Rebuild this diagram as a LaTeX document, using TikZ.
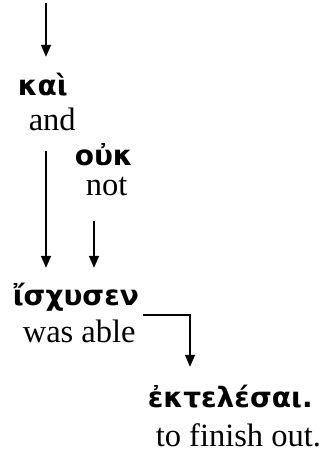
\documentclass[tikz,border=0pt]{standalone}
\usepackage{fontspec}
\setmainfont{Liberation Serif}
\newfontfamily\greekfont{DejaVu Sans}[BoldFont={DejaVu Sans Bold}]
\usetikzlibrary{arrows.meta}

\begin{document}
\begin{tikzpicture}[x=1pt,y=-1pt,line width=1.6pt,>={Triangle[width=10pt,length=12pt]},
  greek/.style={anchor=base west,inner sep=0pt,font=\greekfont\bfseries\fontsize{28}{34}\selectfont},
  gloss/.style={anchor=base west,inner sep=0pt,font=\fontsize{32.5}{39}\selectfont}]
\useasboundingbox (0,0) rectangle (321,460);
% words and glosses
\node[greek] (kai) at (17,95) {καὶ};
\node[gloss] (and) at (28,130) {and};
\node[greek] (ouk) at (74,165) {οὐκ};
\node[gloss] (not) at (85,195) {not};
\node[greek] (isxusen) at (12,305) {ἴσχυσεν};
\node[gloss] (wasable) at (22,342) {was able};
\node[greek] (ektelesai) at (147,407) {ἐκτελέσαι.};
\node[gloss] (finish) at (155,446) {to finish out.};
% connectors
\coordinate (top) at (46,3);
\coordinate (mid) at (94,0);
\coordinate (turn) at (190,315);
\coordinate (start) at ([xshift=7pt]wasable.east);
\draw[->,shorten >=15pt] (top) -- (top |- kai.north);
\draw[->,shorten <=20pt,shorten >=14pt] (top |- and.south) -- (top |- isxusen.north);
\draw[->,shorten <=25pt,shorten >=14pt] (mid |- not.south) -- (mid |- isxusen.north);
\draw[->,shorten >=17pt] (start |- turn) -- (turn) -- (turn |- ektelesai.north);
\end{tikzpicture}
\end{document}
